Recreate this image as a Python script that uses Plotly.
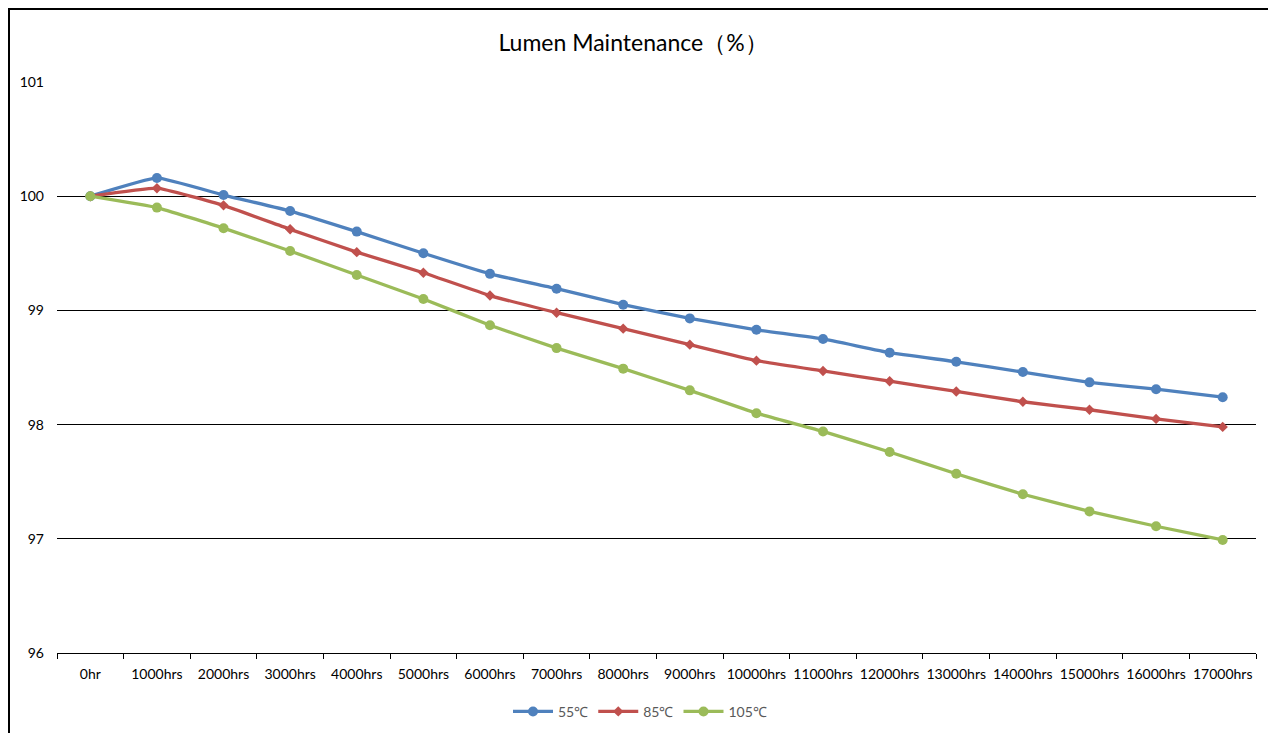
import plotly.graph_objects as go

categories = ["0hr", "1000hrs", "2000hrs", "3000hrs", "4000hrs", "5000hrs", "6000hrs",
              "7000hrs", "8000hrs", "9000hrs", "10000hrs", "11000hrs", "12000hrs",
              "13000hrs", "14000hrs", "15000hrs", "16000hrs", "17000hrs"]
series_names = ["55℃", "85℃", "105℃"]
values_55 = [100.00, 100.16, 100.01, 99.87, 99.69, 99.50, 99.32, 99.19, 99.05, 98.93,
             98.83, 98.75, 98.63, 98.55, 98.46, 98.37, 98.31, 98.24]
values_85 = [100.00, 100.07, 99.92, 99.71, 99.51, 99.33, 99.13, 98.98, 98.84, 98.70,
             98.56, 98.47, 98.38, 98.29, 98.20, 98.13, 98.05, 97.98]
values_105 = [100.00, 99.90, 99.72, 99.52, 99.31, 99.10, 98.87, 98.67, 98.49, 98.30,
              98.10, 97.94, 97.76, 97.57, 97.39, 97.24, 97.11, 96.99]
y_ticks = [96, 97, 98, 99, 100, 101]

colors = ["#4F81BD", "#C0504D", "#9BBB59"]
symbols = ["circle", "diamond", "circle"]
sizes = [10, 8, 10]

fig = go.Figure()
for name, vals, c, s, sz in zip(series_names, [values_55, values_85, values_105], colors, symbols, sizes):
    fig.add_trace(go.Scatter(
        x=categories, y=vals, name=name, mode="lines+markers",
        line=dict(color=c, width=3.3, shape="spline", smoothing=0.3),
        marker=dict(color=c, symbol=s, size=sz),
    ))

font_family = "Lato, 'Open Sans', sans-serif"
# page body has an 8px margin, so the figure is 8px smaller and margins shifted
W, H = 1268, 725
fig.update_layout(
    width=W, height=H,
    margin=dict(l=49, r=20, t=74, b=80, autoexpand=False),
    paper_bgcolor="white", plot_bgcolor="white",
    font=dict(family=font_family, size=14, color="#000000"),
    title=dict(text="Lumen Maintenance（%）", x=(633 - 8) / W, xanchor="center",
               y=1 - 35 / H, yanchor="middle",
               font=dict(family=font_family, size=23, color="#000000")),
    showlegend=True,
    legend=dict(orientation="h", x=(640 - 57) / 1199, xanchor="center", y=-0.103, yanchor="middle",
                font=dict(size=14, color="#595959"), itemwidth=40, traceorder="normal"),
    xaxis=dict(type="category", tickson="boundaries", ticks="outside", ticklen=5,
               tickcolor="#000000", showline=True, linecolor="#000000", linewidth=1,
               showgrid=False, range=[-0.5, len(categories) - 0.5], tickangle=0,
               ticklabelstandoff=8,
               automargin=False, tickfont=dict(size=14, color="#000000")),
    yaxis=dict(range=[96, 101], tickvals=y_ticks, showgrid=True, gridcolor="#000000",
               gridwidth=1, zeroline=False, showline=False, ticks="", automargin=False,
               ticklabelstandoff=12, tickfont=dict(size=14, color="#000000")),
)

# outer chart border (left, top, right) at the figure edges
fig.add_shape(type="path", xref="paper", yref="paper",
              path="M {x0},{yb} L {x0},{yt} L {x1},{yt} L {x1},{yb}".format(
                  x0=(1 - 49) / 1199, x1=(1267 - 49) / 1199,
                  yt=(571 + 74 - 1) / 571, yb=-90 / 571),
              line=dict(color="#000000", width=2))

fig.write_html("out.html")
